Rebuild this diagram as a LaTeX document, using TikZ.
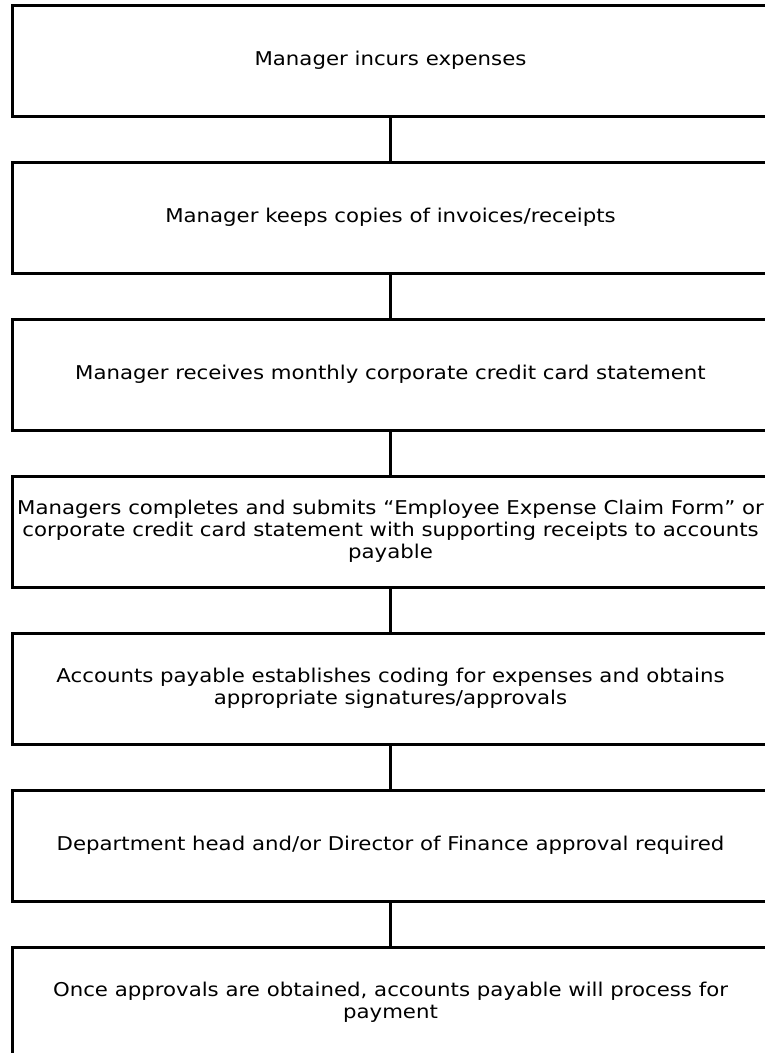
\documentclass[tikz,border=0pt]{standalone}
\usepackage{fontspec}
\setmainfont{DejaVu Sans}[FakeStretch=1.12]
\begin{document}
\begin{tikzpicture}[x=1pt,y=-1pt,
  stepbox/.style={draw=black, line width=3pt, minimum width=757pt,
    minimum height=111pt, align=center, inner sep=0pt,
    font=\fontsize{19}{22}\selectfont},
  link/.style={draw=black, line width=2.6pt}]
  \useasboundingbox (0,0) rectangle (765,1053);
  \clip (0,0) rectangle (765,1053);
  % process steps, one every 157pt down the page
  \node[stepbox] (s1) at (390.5,60.5) {Manager incurs expenses};
  \node[stepbox] (s2) at (390.5,217.5) {Manager keeps copies of invoices/receipts};
  \node[stepbox] (s3) at (390.5,374.5) {Manager receives monthly corporate credit card statement};
  \node[stepbox] (s4) at (390.5,531.5) {Managers completes and submits “Employee Expense Claim Form” or\\corporate credit card statement with supporting receipts to accounts\\payable};
  \node[stepbox] (s5) at (390.5,688.5) {Accounts payable establishes coding for expenses and obtains\\appropriate signatures/approvals};
  \node[stepbox] (s6) at (390.5,845.5) {Department head and/or Director of Finance approval required};
  \node[stepbox] (s7) at (390.5,1002.5) {Once approvals are obtained, accounts payable will process for\\payment};
  % plain connectors between consecutive steps
  \foreach \a/\b in {s1/s2,s2/s3,s3/s4,s4/s5,s5/s6,s6/s7}
    \path[link] (\a.south) -- (\b.north);
\end{tikzpicture}
\end{document}
